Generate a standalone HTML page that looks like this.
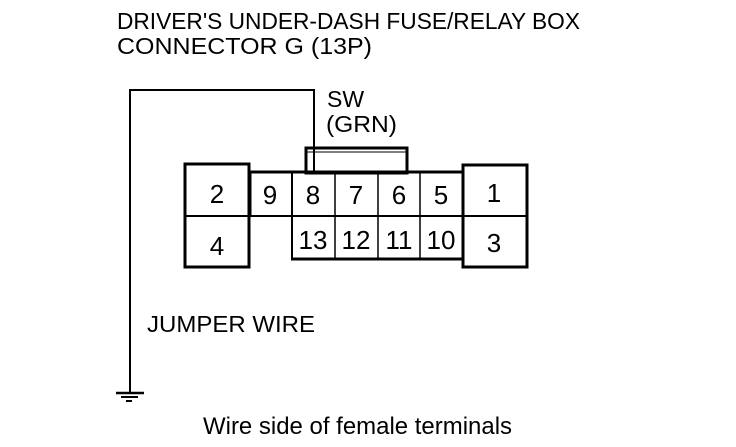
<!DOCTYPE html>
<html><head><style>
body{margin:0;background:#fff;width:736px;height:442px;overflow:hidden}
svg text{font-family:"Liberation Sans",Arial,sans-serif;fill:#000}
</style></head><body>
<svg width="736" height="442" viewBox="0 0 736 442" xmlns="http://www.w3.org/2000/svg">
<g font-size="23">
<text x="117" y="29" textLength="463" lengthAdjust="spacingAndGlyphs">DRIVER'S UNDER-DASH FUSE/RELAY BOX</text>
<text x="117" y="54" textLength="255" lengthAdjust="spacingAndGlyphs">CONNECTOR G (13P)</text>
<text x="327" y="107">SW</text>
<text x="326" y="132" textLength="71" lengthAdjust="spacingAndGlyphs">(GRN)</text>
<text x="147" y="332" textLength="168" lengthAdjust="spacingAndGlyphs">JUMPER WIRE</text>
<text x="203" y="434" font-size="24" textLength="309" lengthAdjust="spacingAndGlyphs">Wire side of female terminals</text>
</g>
<g fill="none" stroke="#000">
<polyline points="130,392 130,90 314,90 314,174" stroke-width="2"/>
<line x1="116" y1="393" x2="144" y2="393" stroke-width="2.5"/>
<line x1="121" y1="397" x2="138" y2="397" stroke-width="2"/>
<line x1="126" y1="401" x2="132" y2="401" stroke-width="2"/>
<rect x="306" y="148" width="101" height="25" stroke-width="3"/>
<line x1="307" y1="152" x2="406" y2="152" stroke-width="1"/>
<rect x="250" y="172" width="213" height="87" stroke-width="3"/>
<line x1="292" y1="172" x2="292" y2="259" stroke-width="2"/>
<line x1="335" y1="172" x2="335" y2="259" stroke-width="1.5"/>
<line x1="378" y1="172" x2="378" y2="259" stroke-width="1.5"/>
<line x1="420" y1="172" x2="420" y2="259" stroke-width="1.5"/>
<line x1="250" y1="216" x2="463" y2="216" stroke-width="2"/>
</g>
<rect x="250" y="217" width="41" height="44" fill="#fff"/>
<g fill="none" stroke="#000">
<rect x="185" y="164" width="64" height="103" stroke-width="3" fill="#fff"/>
<line x1="185" y1="216" x2="249" y2="216" stroke-width="2"/>
<rect x="463" y="165" width="64" height="102" stroke-width="3" fill="#fff"/>
<line x1="463" y1="216" x2="527" y2="216" stroke-width="2"/>
</g>
<g font-size="26" text-anchor="middle">
<text x="217" y="203">2</text>
<text x="217" y="255">4</text>
<text x="270" y="204">9</text>
<text x="313" y="204">8</text>
<text x="356" y="204">7</text>
<text x="399" y="204">6</text>
<text x="441" y="204">5</text>
<text x="494" y="202">1</text>
<text x="494" y="252">3</text>
<text x="313" y="249">13</text>
<text x="356" y="249">12</text>
<text x="399" y="249">11</text>
<text x="441" y="249">10</text>
</g>
</svg>
</body></html>
